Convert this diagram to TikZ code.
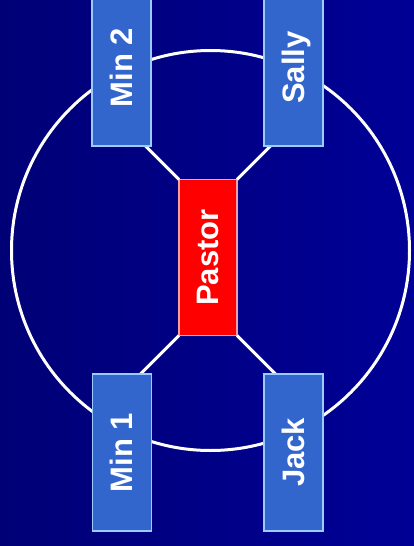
\documentclass[tikz,border=0pt]{standalone}
\usepackage{fontspec}
\setmainfont{Liberation Sans}
\usepackage{graphicx}
\definecolor{bgleft}{RGB}{0,0,118}
\definecolor{bgright}{RGB}{0,0,150}
\definecolor{boxfill}{RGB}{51,102,204}
\definecolor{boxline}{RGB}{153,204,255}
\definecolor{pastorline}{RGB}{255,160,160}
\newcommand{\rottext}[1]{\rotatebox{90}{\fontsize{31}{36}\selectfont\bfseries\rule[-0.212em]{0pt}{1.117em}#1}}
\begin{document}
\begin{tikzpicture}[x=1pt,y=-1pt,
  person/.style={draw=boxline, line width=1.2pt, fill=boxfill, text=white,
    minimum width=59pt, minimum height=157pt, inner sep=0pt, outer sep=0pt},
  leader/.style={person, draw=pastorline, fill=red, minimum width=58pt, minimum height=156pt},
  link/.style={draw=white, line width=3pt}]
\useasboundingbox (0,0) rectangle (414,546);
\shade[left color=bgleft, right color=bgright] (0,0) rectangle (414,546);
\draw[white, line width=3pt] (210.5,250.5) ellipse [x radius=199, y radius=200];
\node[leader] (pastor) at (208,257.5) {\rottext{Pastor}};
\path (pastor.north west) ++(-45,-45) coordinate (e2);
\path (pastor.north east) ++(45,-45) coordinate (es);
\path (pastor.south west) ++(-45,45) coordinate (e1);
\path (pastor.south east) ++(45,45) coordinate (ej);
\draw[link] (pastor.north west) -- (e2);
\draw[link] (pastor.north east) -- (es);
\draw[link] (pastor.south west) -- (e1);
\draw[link] (pastor.south east) -- (ej);
\node[person] (min2) at (121.5,67.5) {\rottext{Min 2}};
\node[person] (sally) at (293.5,67.5) {\rottext{Sally}};
\node[person] (min1) at (122,452.5) {\rottext{Min 1}};
\node[person] (jack) at (293.5,452.5) {\rottext{Jack}};
\end{tikzpicture}
\end{document}
